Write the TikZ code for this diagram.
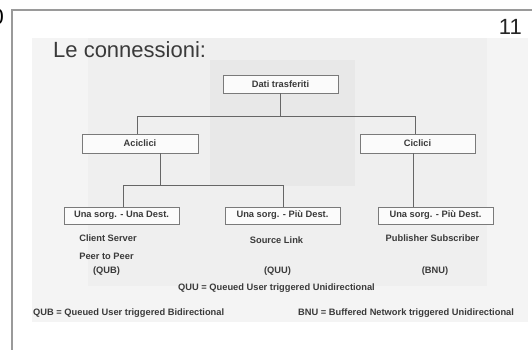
\documentclass[tikz,border=0pt]{standalone}
\usepackage{fontspec}
\setmainfont{Liberation Sans}
\definecolor{framegray}{HTML}{9A9A9A}
\definecolor{bglight}{HTML}{F4F4F4}
\definecolor{bgmid}{HTML}{EFEFEF}
\definecolor{bgdark}{HTML}{E8E8E8}
\definecolor{boxline}{HTML}{7A7A7A}
\definecolor{wireline}{HTML}{666666}
\definecolor{txtgray}{HTML}{3A3A3A}
\tikzset{
  box/.style={draw=boxline, line width=0.8pt, fill=white!97!gray, minimum height=18pt, inner sep=0pt,
              font=\fontsize{9.3}{10}\selectfont\bfseries, text=txtgray},
  wire/.style={draw=wireline, line width=0.7pt},
  small/.style={font=\fontsize{9.3}{10}\selectfont\bfseries, text=txtgray, inner sep=0pt},
}
\begin{document}
\begin{tikzpicture}[x=1pt, y=-1pt]
\useasboundingbox (0,0) rectangle (532,350);
\clip (0,0) rectangle (532,350);
\fill[white] (0,0) rectangle (532,350);
% background of the pasted diagram
\fill[bglight] (32,38) rectangle (528,322);
\fill[bgmid] (88,38) rectangle (487,286);
\fill[bgdark] (210,60) rectangle (355,186);
% frame
\draw[framegray, line width=1.5pt] (533,10) -- (12,10) -- (12,351);
% page texts
\node[anchor=base east, font=\fontsize{22}{24}\selectfont, text=black, inner sep=0pt] (prev) at (4,25) {0};
\node[anchor=base east, font=\fontsize{22}{24}\selectfont, text=black!85, inner sep=0pt] (pnum) at (522,35) {11};
\node[anchor=base west, font=\fontsize{22}{24}\selectfont, text=txtgray, inner sep=0pt] (title) at (53,58) {Le connessioni:};
% boxes
\node[box, minimum width=115pt] (dati) at (280.5,84) {Dati trasferiti};
\node[box, minimum width=116pt, minimum height=19pt] (acicli) at (140,143.5) {Aciclici\hspace{24pt}};
\node[box, minimum width=115pt, minimum height=19pt] (ciclici) at (417.5,143.5) {Ciclici\hspace{28pt}};
\node[box, minimum width=115pt, minimum height=17pt] (b1) at (121.5,215.5) {Una sorg. - Una Dest.};
\node[box, minimum width=115pt, minimum height=17pt] (b2) at (282.5,215.5) {Una sorg. - Più Dest.};
\node[box, minimum width=115pt, minimum height=17pt] (b3) at (435.5,215.5) {Una sorg. - Più Dest.};
% connectors
\coordinate (hL) at (137,116);
\coordinate (hR) at (415,116);
\coordinate (aL) at (123,185);
\coordinate (aR) at (283,185);
\draw[wire] (dati.south) -- (dati.south |- hL);
\draw[wire] (hL) -- (hR);
\draw[wire] (hL) -- (hL |- acicli.north);
\draw[wire] (hR) -- (hR |- ciclici.north);
\draw[wire] (acicli.south -| 160,0) -- (160,185);
\draw[wire] (aL) -- (aR);
\draw[wire] (aL) -- (aL |- b1.north);
\draw[wire] (aR) -- (aR |- b2.north);
\draw[wire] (ciclici.south -| 413,0) -- (413,0 |- b3.north);
% labels
\node[small] (l1) at (108,238) {Client Server};
\node[small] (l2) at (106.5,256) {Peer to Peer};
\node[small] (l3) at (106.5,271) {(QUB)};
\node[small] (l4) at (276.5,240) {Source Link};
\node[small] (l5) at (277.5,271) {(QUU)};
\node[small] (l6) at (432.5,238) {Publisher Subscriber};
\node[small] (l7) at (435,271) {(BNU)};
\node[small] (qu) at (276.5,288) {QUU = Queued User triggered Unidirectional};
\node[small, anchor=west] (qb) at (33,313) {QUB = Queued User triggered Bidirectional};
\node[small, anchor=west] (bn) at (298,313) {BNU = Buffered Network triggered Unidirectional};
\end{tikzpicture}
\end{document}
